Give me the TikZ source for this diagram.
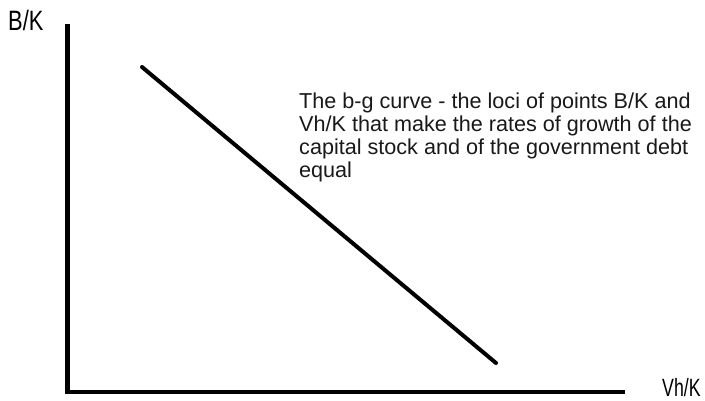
\documentclass[tikz,border=0pt]{standalone}
\usepackage{fontspec}
\setmainfont{Liberation Sans}
\begin{document}
\begin{tikzpicture}[x=1pt,y=-1pt,
  axis/.style={line width=4.5pt,line join=miter},
  curve/.style={line width=4pt,line cap=round},
  axlabel/.style={inner sep=0pt,anchor=base west},
  note/.style={inner sep=0pt,anchor=base west,align=left,font=\fontsize{21.6}{23}\selectfont,text=black!90}]
\useasboundingbox (0,0) rectangle (705,400);
\fill[white] (0,0) rectangle (705,400);
\coordinate (ytop) at (67.5,24);
\coordinate (origin) at (67.5,392);
\coordinate (xend) at (625,392);
\coordinate (cstart) at (142,67);
\coordinate (cend) at (496,363);
\draw[axis] (ytop) -- (origin) -- (xend);
\draw[curve] (cstart) -- (cend);
\node[axlabel] (bk) at (8,30) {\scalebox{0.78}[1]{\fontsize{28}{28}\selectfont B/K}};
\node[axlabel] (vhk) at (662,396) {\scalebox{0.71}[1]{\fontsize{25}{25}\selectfont Vh/K}};
\node[note] (txt) at (299,177) {The b-g curve - the loci of points B/K and\\Vh/K that make the rates of growth of the\\capital stock and of the government debt\\equal};
\end{tikzpicture}
\end{document}
